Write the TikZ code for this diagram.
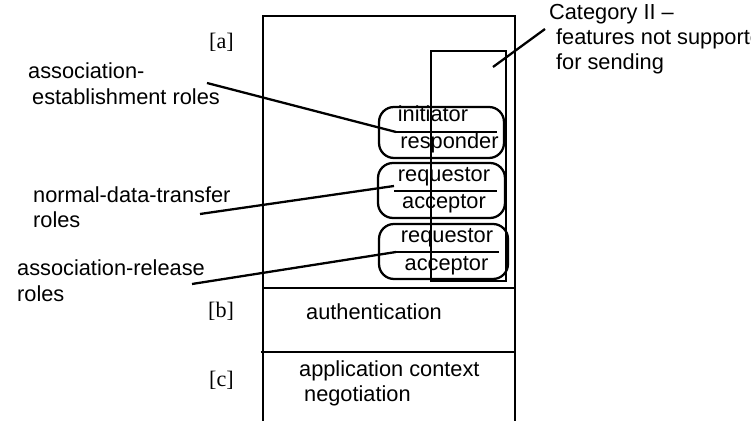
\documentclass[tikz,border=0pt]{standalone}
\usepackage{fontspec}
\setmainfont{Liberation Sans}
\newfontfamily\tagfont{Liberation Serif}
\usepackage{tikz}
\tikzset{
  lbl/.style={inner sep=0pt, anchor=base west, font=\fontsize{12.4}{14}\selectfont},
  tag/.style={inner sep=0pt, anchor=base west, font=\tagfont\fontsize{12.6}{14}\selectfont},
  rolename/.style={inner sep=0pt, anchor=base, font=\fontsize{12.4}{14}\selectfont},
  rolebox/.style={draw, rounded corners=0.3cm, inner sep=0pt},
}

\begin{document}
\begin{tikzpicture}[x=0.02cm, y=-0.02cm, line width=1.3pt]
  \useasboundingbox (0,0) rectangle (751,421);
  % frame with the three parts
  \draw (263,421) -- (263,16) -- (515,16) -- (515,421);
  \draw (263,288) -- (515,288);
  \draw (261,352) -- (515,352);
  \node[tag] (taga) at (208,49) {[a]};
  \node[tag] (tagb) at (207,318) {[b]};
  \node[tag] (tagc) at (208,387) {[c]};
  \node[lbl] (auth) at (305,320) {authentication};
  \node[lbl] (appc1) at (298,377) {application context};
  \node[lbl] (appc2) at (303,402) {negotiation};

  % role pairs
  \node[rolebox, minimum width=2.5cm, minimum height=1.02cm] (estbox) at (441.5,132.5) {};
  \node[rolebox, minimum width=2.54cm, minimum height=1.1cm] (ndtbox) at (441.5,190.5) {};
  \node[rolebox, minimum width=2.58cm, minimum height=1.1cm] (relbox) at (443.5,251.5) {};
  \coordinate (estL) at (396,132); \coordinate (estR) at (497,132);
  \coordinate (ndtL) at (394,191); \coordinate (ndtR) at (497,191);
  \coordinate (relL) at (396,252); \coordinate (relR) at (499,252);
  \draw (estL) -- (estR);
  \draw (ndtL) -- (ndtR);
  \draw (relL) -- (relR);
  \node[rolename] (init) at (433,122) {initiator};
  \node[rolename] (resp) at (449.5,149) {responder};
  \node[rolename] (req1) at (444,182) {requestor};
  \node[rolename] (acc1) at (444,209) {acceptor};
  \node[rolename] (req2) at (447,243) {requestor};
  \node[rolename] (acc2) at (446.5,271) {acceptor};

  % category II
  \node[draw, inner sep=0pt, minimum width=1.5cm, minimum height=4.6cm] (catbox) at (468.5,166) {};
  \node[lbl] (cat1) at (548,20) {Category II –};
  \node[lbl] (cat2) at (555,45) {features not supported};
  \node[lbl] (cat3) at (555,70) {for sending};
  \coordinate (catP) at (493,67);
  \coordinate (catQ) at (545,29);
  \draw (catP) -- (catQ);

  % labels on the left
  \node[lbl] (est1) at (27,79) {association-};
  \node[lbl] (est2) at (31,105) {establishment roles};
  \node[lbl] (ndt1) at (32,203) {normal-data-transfer};
  \node[lbl] (ndt2) at (32,228) {roles};
  \node[lbl] (rel1) at (16,276) {association-release};
  \node[lbl] (rel2) at (16,302) {roles};
  \coordinate (estS) at (207,83);
  \coordinate (ndtS) at (200,214);
  \coordinate (ndtT) at (394,186);
  \coordinate (relS) at (192,284);
  \draw (estS) -- (estL);
  \draw (ndtS) -- (ndtT);
  \draw (relS) -- (relL);
\end{tikzpicture}
\end{document}
